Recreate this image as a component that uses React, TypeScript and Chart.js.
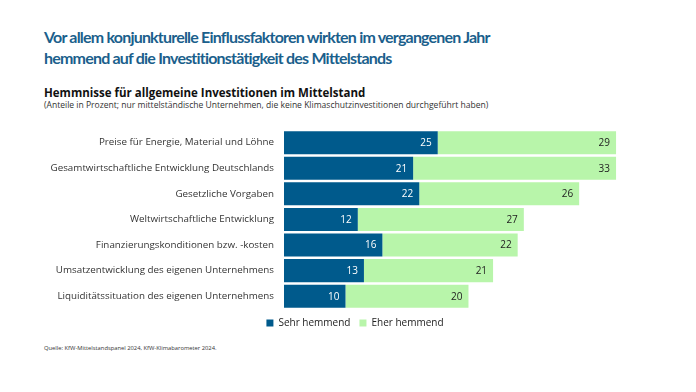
import React, { useEffect, useRef } from "react";
import { Chart, registerables } from "chart.js";
Chart.register(...registerables);

const categories = [
  "Preise für Energie, Material und Löhne",
  "Gesamtwirtschaftliche Entwicklung Deutschlands",
  "Gesetzliche Vorgaben",
  "Weltwirtschaftliche Entwicklung",
  "Finanzierungskonditionen bzw. -kosten",
  "Umsatzentwicklung des eigenen Unternehmens",
  "Liquiditätssituation des eigenen Unternehmens",
];
const sehrHemmend = [25, 21, 22, 12, 16, 13, 10];
const eherHemmend = [29, 33, 26, 27, 22, 21, 20];
const seriesNames = ["Sehr hemmend", "Eher hemmend"];

const DARK = "#005A8C";
const LIGHT = "#B8F5AA";
const FONT = "'Open Sans', sans-serif";

const valueLabels = {
  id: "valueLabels",
  afterDatasetsDraw(chart: any) {
    const ctx = chart.ctx;
    ctx.save();
    ctx.font = `10px ${FONT}`;
    ctx.textAlign = "right";
    ctx.textBaseline = "middle";
    chart.data.datasets.forEach((ds: any, di: number) => {
      const meta = chart.getDatasetMeta(di);
      meta.data.forEach((bar: any, i: number) => {
        ctx.fillStyle = di === 0 ? "#ffffff" : "#222222";
        ctx.fillText(String(ds.data[i]), bar.x - 6, bar.y + 0.5);
      });
    });
    ctx.restore();
  },
};

export default function App() {
  const ref = useRef<HTMLCanvasElement>(null);
  useEffect(() => {
    if (!ref.current) return;
    const chart = new Chart(ref.current, {
      type: "bar",
      data: {
        labels: categories,
        datasets: [
          { label: seriesNames[0], data: sehrHemmend, backgroundColor: DARK, borderWidth: 0, categoryPercentage: 1, barPercentage: 0.9 },
          { label: seriesNames[1], data: eherHemmend, backgroundColor: LIGHT, borderWidth: 0, categoryPercentage: 1, barPercentage: 0.9 },
        ],
      },
      options: {
        indexAxis: "y",
        animation: false,
        responsive: false,
        maintainAspectRatio: false,
        layout: { padding: { top: 3, right: 0, bottom: 2, left: 14 } },
        scales: {
          x: { stacked: true, min: 0, max: 67, display: false },
          y: {
            stacked: true,
            grid: { display: false, drawTicks: false },
            border: { display: false },
            ticks: { font: { family: FONT, size: 9.8 }, color: "#333333", padding: 10 },
            afterFit: (scale: any) => { scale.width = 270; },
          },
        },
        plugins: {
          legend: {
            position: "bottom",
            labels: { font: { family: FONT, size: 10 }, color: "#222222", boxWidth: 7, boxHeight: 7, padding: 9 },
          },
          tooltip: { enabled: false },
        },
      },
      plugins: [valueLabels],
    });
    return () => chart.destroy();
  }, []);

  return (
    <div style={{ position: "fixed", left: 0, top: 0, width: 696, height: 392, background: "#fff", overflow: "hidden" }}>
      <div style={{ position: "absolute", left: 44, top: 25.5, fontFamily: "Lato, sans-serif", fontWeight: 700, fontSize: 16, letterSpacing: -0.8, lineHeight: "21px", color: "#1B5F8C", whiteSpace: "nowrap" }}>
        <div>Vor allem konjunkturelle Einflussfaktoren wirkten im vergangenen Jahr</div>
        <div>hemmend auf die Investitionstätigkeit des Mittelstands</div>
      </div>
      <div style={{ position: "absolute", left: 44, top: 85.5, fontFamily: FONT, fontWeight: 700, fontSize: 11.5, lineHeight: "14px", color: "#111", whiteSpace: "nowrap" }}>
        Hemmnisse für allgemeine Investitionen im Mittelstand
      </div>
      <div style={{ position: "absolute", left: 44, top: 100, fontFamily: FONT, fontSize: 8.55, lineHeight: "10px", color: "#333", whiteSpace: "nowrap" }}>
        (Anteile in Prozent; nur mittelständische Unternehmen, die keine Klimaschutzinvestitionen durchgeführt haben)
      </div>
      <canvas ref={ref} width={696} height={226} style={{ position: "absolute", left: 0, top: 114, width: 696, height: 226 }} />
      <div style={{ position: "absolute", left: 44, top: 344, fontFamily: FONT, fontSize: 5.8, lineHeight: "8px", color: "#333", whiteSpace: "nowrap" }}>
        Quelle: KfW-Mittelstandspanel 2024, KfW-Klimabarometer 2024.
      </div>
    </div>
  );
}
